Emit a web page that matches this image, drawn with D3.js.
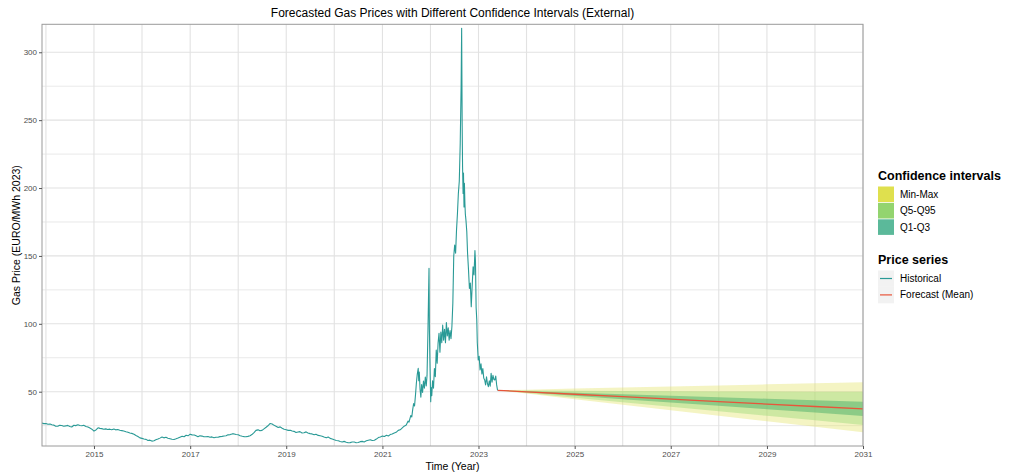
<!DOCTYPE html>
<html>
<head>
<meta charset="utf-8">
<script src="https://cdn.jsdelivr.net/npm/d3@7"></script>
<style>
  body { margin: 0; background: #fff; }
  svg { display: block; font-family: "Liberation Sans", Arial, Helvetica, sans-serif; }
</style>
</head>
<body>
<svg id="chart" width="1010" height="473"></svg>
<script>
// Historical day-ahead gas price (EURO/MWh, 2023 prices)
const historical = [
  ["2013-12-02",26.9],["2013-12-16",26.5],["2014-01-01",26.6],["2014-01-16",26.0],["2014-02-01",26.2],["2014-02-15",25.6],
  ["2014-03-01",25.4],["2014-03-16",24.5],["2014-04-01",24.6],["2014-04-15",25.3],["2014-05-01",25.1],["2014-05-16",24.6],
  ["2014-06-01",24.8],["2014-06-15",25.2],["2014-07-01",24.3],["2014-07-16",24.0],["2014-08-01",25.3],["2014-08-15",25.0],
  ["2014-09-01",25.6],["2014-09-16",25.1],["2014-10-01",24.9],["2014-10-15",25.3],["2014-11-01",24.4],["2014-11-16",24.0],
  ["2014-12-01",23.2],["2014-12-16",22.4],["2015-01-01",21.0],["2015-01-16",21.8],["2015-02-01",23.4],["2015-02-15",23.0],
  ["2015-03-01",22.8],["2015-03-16",22.3],["2015-04-01",22.6],["2015-04-15",22.2],["2015-05-01",22.4],["2015-05-16",22.0],
  ["2015-06-01",22.5],["2015-06-15",21.9],["2015-07-01",22.1],["2015-07-16",21.6],["2015-08-01",21.3],["2015-08-15",21.0],
  ["2015-09-01",20.5],["2015-09-16",20.1],["2015-10-01",19.6],["2015-10-15",19.3],["2015-11-01",18.7],["2015-11-16",17.8],
  ["2015-12-01",17.0],["2015-12-16",16.0],["2016-01-01",15.6],["2016-01-16",15.2],["2016-02-01",14.9],["2016-02-15",14.0],
  ["2016-03-01",14.3],["2016-03-16",13.6],["2016-04-01",13.9],["2016-04-15",14.6],["2016-05-01",15.1],["2016-05-16",15.8],
  ["2016-06-01",16.6],["2016-06-15",16.0],["2016-07-01",16.4],["2016-07-16",15.7],["2016-08-01",15.4],["2016-08-15",15.0],
  ["2016-09-01",14.8],["2016-09-16",15.3],["2016-10-01",15.9],["2016-10-15",16.5],["2016-11-01",17.2],["2016-11-16",16.8],
  ["2016-12-01",17.9],["2016-12-16",17.5],["2017-01-01",18.7],["2017-01-16",18.2],["2017-02-01",18.1],["2017-02-15",17.5],
  ["2017-03-01",16.9],["2017-03-16",17.6],["2017-04-01",17.3],["2017-04-15",16.8],["2017-05-01",16.8],["2017-05-16",17.0],
  ["2017-06-01",16.4],["2017-06-15",16.7],["2017-07-01",16.1],["2017-07-16",16.5],["2017-08-01",16.4],["2017-08-15",16.9],
  ["2017-09-01",17.1],["2017-09-16",17.4],["2017-10-01",17.6],["2017-10-15",18.2],["2017-11-01",18.4],["2017-11-16",18.9],
  ["2017-12-01",18.9],["2017-12-16",18.5],["2018-01-01",18.3],["2018-01-16",17.6],["2018-02-01",17.2],["2018-02-15",16.9],
  ["2018-03-01",16.8],["2018-03-16",17.1],["2018-04-01",17.6],["2018-04-15",18.4],["2018-05-01",19.9],["2018-05-16",21.5],
  ["2018-06-01",21.9],["2018-06-15",21.2],["2018-07-01",21.5],["2018-07-16",22.6],["2018-08-01",23.8],["2018-08-15",24.9],
  ["2018-09-01",26.6],["2018-09-16",26.2],["2018-10-01",25.2],["2018-10-15",24.6],["2018-11-01",23.6],["2018-11-16",24.1],
  ["2018-12-01",23.1],["2018-12-16",22.3],["2019-01-01",22.0],["2019-01-16",21.5],["2019-02-01",21.6],["2019-02-15",21.0],
  ["2019-03-01",20.8],["2019-03-16",19.9],["2019-04-01",20.3],["2019-04-15",20.6],["2019-05-01",19.6],["2019-05-16",19.8],
  ["2019-06-01",20.4],["2019-06-15",19.6],["2019-07-01",19.1],["2019-07-16",18.9],["2019-08-01",18.3],["2019-08-15",18.7],
  ["2019-09-01",17.8],["2019-09-16",17.5],["2019-10-01",17.2],["2019-10-15",16.6],["2019-11-01",16.0],["2019-11-16",16.6],
  ["2019-12-01",15.6],["2019-12-16",15.2],["2020-01-01",14.6],["2020-01-16",14.1],["2020-02-01",13.9],["2020-02-15",13.3],
  ["2020-03-01",12.9],["2020-03-16",13.4],["2020-04-01",12.8],["2020-04-15",12.4],["2020-05-01",12.5],["2020-05-16",12.9],
  ["2020-06-01",12.9],["2020-06-15",12.4],["2020-07-01",12.6],["2020-07-16",13.2],["2020-08-01",13.4],["2020-08-15",13.0],
  ["2020-09-01",13.8],["2020-09-16",14.2],["2020-10-01",14.6],["2020-10-15",14.0],["2020-11-01",14.2],["2020-11-16",15.1],
  ["2020-12-01",16.2],["2020-12-16",16.7],["2021-01-01",17.3],["2021-01-16",17.0],["2021-02-01",17.9],["2021-02-15",17.4],
  ["2021-03-01",18.4],["2021-03-16",18.9],["2021-04-01",19.6],["2021-04-15",20.1],["2021-05-01",21.5],["2021-05-16",21.9],
  ["2021-06-01",23.4],["2021-06-15",24.6],["2021-07-01",25.5],["2021-07-08",27.0],["2021-07-15",28.4],["2021-07-22",27.6],
  ["2021-07-29",30.1],["2021-08-05",32.5],["2021-08-12",31.4],["2021-08-19",36.8],["2021-08-26",41.2],
  ["2021-09-02",39.5],["2021-09-09",47.3],["2021-09-16",56.4],["2021-09-23",63.0],["2021-09-30",67.2],
  ["2021-10-04",58.1],["2021-10-08",64.5],["2021-10-14",51.8],["2021-10-20",46.0],["2021-10-26",55.3],
  ["2021-11-02",49.4],["2021-11-09",57.9],["2021-11-16",52.5],["2021-11-23",60.8],["2021-11-30",54.2],
  ["2021-12-06",62.0],["2021-12-13",95.0],["2021-12-17",118.0],["2021-12-21",140.9],["2021-12-24",96.0],
  ["2021-12-28",72.0],["2022-01-03",42.6],["2022-01-06",53.0],["2022-01-11",47.0],["2022-01-17",58.0],
  ["2022-01-24",52.5],["2022-01-31",67.0],["2022-02-07",61.0],["2022-02-14",80.7],["2022-02-21",71.0],
  ["2022-02-28",86.0],["2022-03-07",93.0],["2022-03-14",79.0],["2022-03-21",94.0],["2022-03-28",86.0],
  ["2022-04-04",99.0],["2022-04-11",88.0],["2022-04-18",96.0],["2022-04-25",86.0],["2022-05-02",101.0],
  ["2022-05-09",91.0],["2022-05-16",97.0],["2022-05-23",88.0],["2022-05-30",95.0],["2022-06-06",89.0],
  ["2022-06-13",98.0],["2022-06-20",115.0],["2022-06-27",150.0],["2022-07-04",158.0],["2022-07-11",152.0],
  ["2022-07-18",169.0],["2022-07-25",181.0],["2022-08-01",196.0],["2022-08-08",205.0],["2022-08-15",232.0],
  ["2022-08-22",275.0],["2022-08-26",317.6],["2022-08-30",246.0],["2022-09-02",215.7],["2022-09-06",196.0],
  ["2022-09-09",211.0],["2022-09-13",186.0],["2022-09-16",203.5],["2022-09-20",188.0],["2022-09-23",181.0],
  ["2022-09-28",176.0],["2022-10-04",168.0],["2022-10-10",152.0],["2022-10-17",140.0],["2022-10-24",126.0],
  ["2022-10-31",130.0],["2022-11-07",112.6],["2022-11-14",128.0],["2022-11-21",142.0],["2022-11-28",136.0],
  ["2022-12-05",154.0],["2022-12-09",146.0],["2022-12-14",112.0],["2022-12-19",102.8],["2022-12-23",86.0],
  ["2022-12-30",73.3],["2023-01-06",76.0],["2023-01-13",66.0],["2023-01-20",70.5],["2023-01-27",63.0],
  ["2023-02-03",67.0],["2023-02-10",60.0],["2023-02-17",58.6],["2023-02-24",55.0],["2023-03-03",61.0],
  ["2023-03-10",56.0],["2023-03-17",53.7],["2023-03-24",58.0],["2023-03-31",54.0],["2023-04-07",63.5],
  ["2023-04-14",57.0],["2023-04-21",62.0],["2023-04-28",59.0],["2023-05-05",58.6],["2023-05-12",61.5],
  ["2023-05-19",55.0],["2023-05-26",51.0]
];

// Forecast horizon and its distribution summaries
const forecastDates = ["2023-05-27","2024-01-01","2025-01-01","2026-01-01","2027-01-01","2028-01-01","2029-01-01","2030-01-01","2031-01-01"];
const forecastMean  = [51.0, 49.9, 48.1, 46.3, 44.5, 42.7, 40.9, 39.1, 37.3];
const forecastMin   = [51.0, 48.6, 44.5, 40.4, 36.3, 32.2, 28.2, 24.1, 20.1];
const forecastMax   = [51.0, 51.5, 52.3, 53.0, 53.8, 54.6, 55.4, 56.2, 57.0];
const forecastQ5    = [51.0, 49.0, 45.6, 42.3, 38.9, 35.6, 32.2, 28.9, 25.5];
const forecastQ95   = [51.0, 50.9, 50.7, 50.5, 50.3, 50.2, 50.1, 50.0, 50.0];
const forecastQ1    = [51.0, 49.5, 47.0, 44.5, 42.0, 39.6, 37.1, 34.6, 32.1];
const forecastQ3    = [51.0, 50.3, 49.2, 48.1, 47.0, 45.9, 44.8, 43.7, 42.6];

const yTicks = [50, 100, 150, 200, 250, 300];
const yMinorTicks = [25, 75, 125, 175, 225, 275];
const xTickYears = [2015, 2017, 2019, 2021, 2023, 2025, 2027, 2029, 2031];
const xGridYears = [2014, 2015, 2016, 2017, 2018, 2019, 2020, 2021, 2022, 2023, 2024, 2025, 2026, 2027, 2028, 2029, 2030, 2031];
const bandLabels = ["Min-Max", "Q5-Q95", "Q1-Q3"];
const seriesLabels = ["Historical", "Forecast (Mean)"];

const chartTitle = "Forecasted Gas Prices with Different Confidence Intervals (External)";
const xTitle = "Time (Year)";
const yTitle = "Gas Price (EURO/MWh 2023)";

const parse = d3.timeParse("%Y-%m-%d");
const svg = d3.select("#chart");

const panel = { left: 42, right: 863, top: 24.3, bottom: 446 };

const x = d3.scaleTime()
  .domain([parse("2013-12-02"), parse("2031-01-01")])
  .range([panel.left, panel.right]);
const y = d3.scaleLinear()
  .domain([10, 320.6])
  .range([panel.bottom, panel.top]);

const histColor = "#2a9a96";
const meanColor = "#e8553a";
const bandFill = ["#e1e162", "#94d770", "#4cae6a"];
const bandOpacity = [0.38, 0.4, 0.5];
const keyFill = ["#dfe04e", "#93d46f", "#5bb99a"];

// panel background and grid
svg.append("rect")
  .attr("x", panel.left).attr("y", panel.top)
  .attr("width", panel.right - panel.left).attr("height", panel.bottom - panel.top)
  .attr("fill", "#fff");

const grid = svg.append("g");
grid.selectAll("line.hminor").data(yMinorTicks).join("line")
  .attr("x1", panel.left).attr("x2", panel.right)
  .attr("y1", d => y(d)).attr("y2", d => y(d))
  .attr("stroke", "#e6e6e6").attr("stroke-width", 0.9);
grid.selectAll("line.hmajor").data(yTicks).join("line")
  .attr("x1", panel.left).attr("x2", panel.right)
  .attr("y1", d => y(d)).attr("y2", d => y(d))
  .attr("stroke", "#e2e2e2").attr("stroke-width", 1.1);
grid.selectAll("line.v").data(xGridYears).join("line")
  .attr("x1", d => x(new Date(d, 0, 1))).attr("x2", d => x(new Date(d, 0, 1)))
  .attr("y1", panel.top).attr("y2", panel.bottom)
  .attr("stroke", "#e2e2e2").attr("stroke-width", 1.1);

svg.append("clipPath").attr("id", "panel-clip")
  .append("rect")
  .attr("x", panel.left).attr("y", panel.top)
  .attr("width", panel.right - panel.left).attr("height", panel.bottom - panel.top);

const plot = svg.append("g").attr("clip-path", "url(#panel-clip)");

// forecast ribbons
const fc = forecastDates.map((d, i) => ({
  date: parse(d), mean: forecastMean[i],
  bands: [[forecastMin[i], forecastMax[i]], [forecastQ5[i], forecastQ95[i]], [forecastQ1[i], forecastQ3[i]]]
}));

bandLabels.forEach((label, k) => {
  const area = d3.area()
    .x(d => x(d.date))
    .y0(d => y(d.bands[k][0]))
    .y1(d => y(d.bands[k][1]));
  plot.append("path")
    .datum(fc)
    .attr("d", area)
    .attr("fill", bandFill[k])
    .attr("fill-opacity", bandOpacity[k]);
});

// historical series
const hist = historical.map(([d, v]) => ({ date: parse(d), value: v }));
plot.append("path")
  .datum(hist)
  .attr("d", d3.line().x(d => x(d.date)).y(d => y(d.value)))
  .attr("fill", "none")
  .attr("stroke", histColor)
  .attr("stroke-width", 1.1)
  .attr("stroke-linejoin", "round");

// forecast mean
plot.append("path")
  .datum(fc)
  .attr("d", d3.line().x(d => x(d.date)).y(d => y(d.mean)))
  .attr("fill", "none")
  .attr("stroke", meanColor)
  .attr("stroke-width", 1.3);

// panel border
svg.append("rect")
  .attr("x", panel.left).attr("y", panel.top)
  .attr("width", panel.right - panel.left).attr("height", panel.bottom - panel.top)
  .attr("fill", "none").attr("stroke", "#9a9a9a").attr("stroke-width", 1);

// axes
const yAxis = svg.append("g")
  .attr("transform", `translate(${panel.left},0)`)
  .call(d3.axisLeft(y).tickValues(yTicks).tickSize(3).tickPadding(2));
const xAxis = svg.append("g")
  .attr("transform", `translate(0,${panel.bottom})`)
  .call(d3.axisBottom(x).tickValues(xTickYears.map(yr => new Date(yr, 0, 1)))
    .tickFormat(d3.timeFormat("%Y")).tickSize(3).tickPadding(2));

[yAxis, xAxis].forEach(g => {
  g.select(".domain").remove();
  g.selectAll(".tick line").attr("stroke", "#555");
  g.selectAll(".tick text")
    .attr("fill", "#4d4d4d")
    .style("font-size", "8px")
    .style("font-family", "\"Liberation Sans\", Arial, sans-serif");
});

// titles
svg.append("text")
  .attr("x", (panel.left + panel.right) / 2).attr("y", 17)
  .attr("text-anchor", "middle")
  .style("font-size", "12px").attr("fill", "#000")
  .text(chartTitle);

svg.append("text")
  .attr("x", (panel.left + panel.right) / 2).attr("y", 470)
  .attr("text-anchor", "middle")
  .style("font-size", "10.5px").attr("fill", "#000")
  .text(xTitle);

svg.append("text")
  .attr("transform", `translate(20,${(panel.top + panel.bottom) / 2}) rotate(-90)`)
  .attr("text-anchor", "middle")
  .style("font-size", "10.5px").attr("fill", "#000")
  .text(yTitle);

// legend: confidence intervals
const legend = svg.append("g");
legend.append("text")
  .attr("x", 878).attr("y", 180)
  .style("font-size", "12.5px").style("font-weight", "bold")
  .text("Confidence intervals");

bandLabels.forEach((label, k) => {
  const top = 186.5 + k * 16.4;
  legend.append("rect")
    .attr("x", 878).attr("y", top).attr("width", 16).attr("height", 15.6)
    .attr("fill", keyFill[k]);
  legend.append("text")
    .attr("x", 900).attr("y", top + 11.5)
    .style("font-size", "10px").attr("fill", "#000")
    .text(label);
});

// legend: price series
legend.append("text")
  .attr("x", 878).attr("y", 264)
  .style("font-size", "12.5px").style("font-weight", "bold")
  .text("Price series");

const seriesColors = [histColor, meanColor];
seriesLabels.forEach((label, k) => {
  const top = 270.5 + k * 16.4;
  legend.append("rect")
    .attr("x", 878).attr("y", top).attr("width", 16).attr("height", 16.4)
    .attr("fill", "#f2f2f2");
  legend.append("line")
    .attr("x1", 880).attr("x2", 892)
    .attr("y1", top + 8).attr("y2", top + 8)
    .attr("stroke", seriesColors[k]).attr("stroke-width", 1.2);
  legend.append("text")
    .attr("x", 900).attr("y", top + 11.5)
    .style("font-size", "10px").attr("fill", "#000")
    .text(label);
});
</script>
</body>
</html>
